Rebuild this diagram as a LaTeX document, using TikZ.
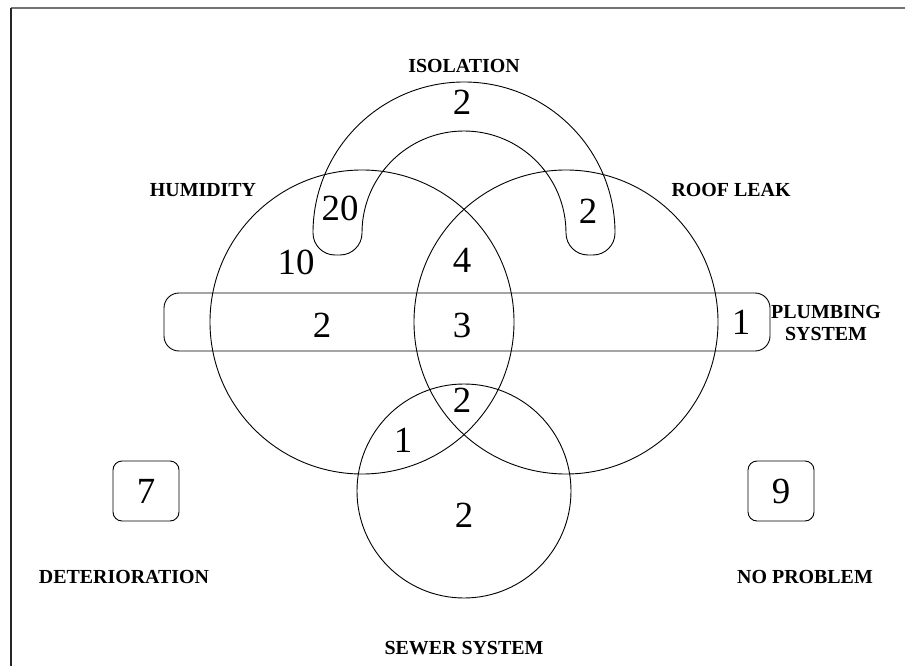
\documentclass[tikz,border=0pt]{standalone}
\usepackage{fontspec}
\setmainfont{Liberation Serif}
\begin{document}
\begin{tikzpicture}[x=1bp, y=-1bp, line width=0.9bp,
  setlabel/.style={font=\fontsize{20}{22}\selectfont\bfseries, align=center, inner sep=0pt},
  count/.style={font=\fontsize{37}{39}\selectfont, inner sep=0pt},
  countbox/.style={draw, rounded corners=9bp, minimum width=66bp, minimum height=60bp, font=\fontsize{37}{39}\selectfont, inner sep=0pt}]
\useasboundingbox (0,0) rectangle (905,666);

% page frame (top and left rules)
\draw[black!55, line width=1.6bp] (11,8) -- (905,8);
\draw[black!85, line width=1.6bp] (11,8) -- (11,666);

% set outlines
\coordinate (hum) at (362,322);
\coordinate (roof) at (566,322);
\coordinate (sew) at (464,491);
\draw (hum) circle[radius=152];
\draw (roof) circle[radius=152];
\draw (sew) circle[radius=107];

% isolation: arch with rounded feet (y axis points down: 270 deg is up, 90 deg is down)
\draw (313,233) arc[start angle=180, end angle=360, radius=151]
  arc[start angle=0, end angle=90, radius=22] -- (588,255)
  arc[start angle=90, end angle=180, radius=22]
  arc[start angle=0, end angle=-180, radius=102]
  arc[start angle=0, end angle=90, radius=22] -- (335,255)
  arc[start angle=90, end angle=180, radius=22] -- cycle;

% plumbing system band
\draw[rounded corners=15bp] (164,293) rectangle (770,351);

% set labels
\node[setlabel] (lIso) at (464,66) {ISOLATION};
\node[setlabel] (lHum) at (203,190) {HUMIDITY};
\node[setlabel] (lRoof) at (731,190) {ROOF LEAK};
\node[setlabel] (lPlumb) at (826,323) {PLUMBING\\SYSTEM};
\node[setlabel] (lDet) at (124,577) {DETERIORATION};
\node[setlabel] (lNo) at (805,577) {NO PROBLEM};
\node[setlabel] (lSew) at (464,648) {SEWER SYSTEM};

% region counts
\node[count] (nIso) at (462,102) {2};
\node[count] (nIsoHum) at (340,208) {20};
\node[count] (nIsoRoof) at (588,211) {2};
\node[count] (nHum) at (296,262) {10};
\node[count] (nHumRoof) at (462,260) {4};
\node[count] (nHumPl) at (322,325) {2};
\node[count] (nHumRoofPl) at (462,325) {3};
\node[count] (nRoofPl) at (741,322) {1};
\node[count] (nHumRoofSew) at (462,400) {2};
\node[count] (nHumSew) at (403,440) {1};
\node[count] (nSew) at (464,515) {2};

% boxes for the two remaining groups
\node[countbox] (bDet) at (146,491) {7};
\node[countbox] (bNo) at (781,491) {9};
\end{tikzpicture}
\end{document}
